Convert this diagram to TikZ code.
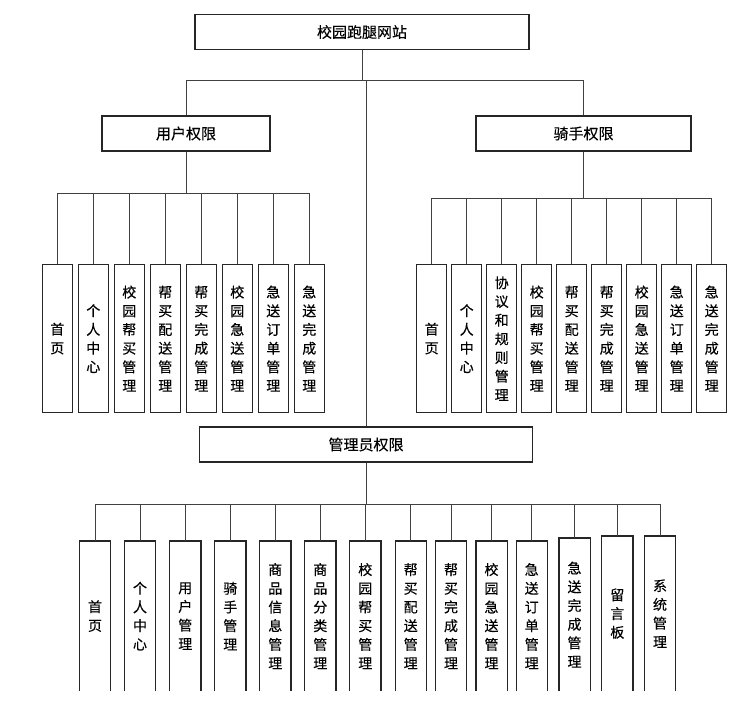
\documentclass[tikz,border=0pt]{standalone}
\usepackage{fontspec}
\newfontfamily\cjk[FakeBold=0.3]{Noto Sans CJK SC}
\begin{document}
\begin{tikzpicture}[x=1pt,y=-1pt,
  conn/.style={draw=black!75,line width=1pt},
  bigbox/.style={draw=black!85,line width=1.2pt,minimum height=35pt,inner sep=0pt,font=\cjk\fontsize{15}{17}\selectfont},
  leaf/.style={draw=black!85,line width=1.2pt,minimum width=30pt,minimum height=148pt,inner sep=0pt,anchor=north,align=center,font=\cjk\fontsize{14}{18.7}\selectfont},
  openleaf/.style={leaf,draw=none},
  side/.style={draw=black!85,line width=1.2pt}]
\useasboundingbox (0,0) rectangle (754,705);
\fill[white] (0,0) rectangle (754,705);

% main boxes
\node[bigbox,minimum width=334pt] (top) at (362,32) {校园跑腿网站};
\node[bigbox,minimum width=168pt] (user) at (186,133.5) {用户权限};
\node[bigbox,minimum width=215pt] (rider) at (583.5,133.5) {骑手权限};
\node[bigbox,minimum width=333pt] (admin) at (366,444.5) {管理员权限};

\coordinate (j0) at (362,80);
\coordinate (j1) at (366,80);
\coordinate (ju) at (186,193);
\coordinate (jr) at (583.5,198);
\coordinate (ja) at (366,504);

\draw[conn] (top.south) -- (j0);
\draw[conn] (user.north) -- (user.north |- j0) -- (rider.north |- j0) -- (rider.north);
\draw[conn] (j1) -- (admin.north);

% user leaves
\foreach \i/\t in {1/{首\\页},2/{个\\人\\中\\心},3/{校\\园\\帮\\买\\管\\理},4/{帮\\买\\配\\送\\管\\理},5/{帮\\买\\完\\成\\管\\理},6/{校\\园\\急\\送\\管\\理},7/{急\\送\\订\\单\\管\\理},8/{急\\送\\完\\成\\管\\理}}{
  \node[leaf] (u\i) at ({57.3+36*(\i-1)},264) {\t};
  \draw[conn] (u\i.north) -- (u\i.north |- ju);
}
\draw[conn] (user.south) -- (ju);
\draw[conn] (u1.north |- ju) -- (u8.north |- ju);

% rider leaves
\foreach \i/\t in {1/{首\\页},2/{个\\人\\中\\心},3/{协\\议\\和\\规\\则\\管\\理},4/{校\\园\\帮\\买\\管\\理},5/{帮\\买\\配\\送\\管\\理},6/{帮\\买\\完\\成\\管\\理},7/{校\\园\\急\\送\\管\\理},8/{急\\送\\订\\单\\管\\理},9/{急\\送\\完\\成\\管\\理}}{
  \node[leaf] (r\i) at ({431.7+35*(\i-1)},264) {\t};
  \draw[conn] (r\i.north) -- (r\i.north |- jr);
}
\draw[conn] (rider.south) -- (jr);
\draw[conn] (r1.north |- jr) -- (r9.north |- jr);

% admin leaves (open at the bottom)
\foreach \i/\x/\y/\t in {1/95/541/{首\\页},2/140/541/{个\\人\\中\\心},3/185.3/541/{用\\户\\管\\理},4/230.3/541/{骑\\手\\管\\理},5/275.3/541/{商\\品\\信\\息\\管\\理},6/320.3/541/{商\\品\\分\\类\\管\\理},7/365.3/541/{校\\园\\帮\\买\\管\\理},8/410.7/541/{帮\\买\\配\\送\\管\\理},9/451/541/{帮\\买\\完\\成\\管\\理},10/491.5/541/{校\\园\\急\\送\\管\\理},11/531.7/541/{急\\送\\订\\单\\管\\理},12/574.5/538/{急\\送\\完\\成\\管\\理},13/617.3/536/{留\\言\\板},14/660/536/{系\\统\\管\\理}}{
  \node[openleaf,minimum height={690-\y}] (a\i) at (\x,\y) {\t};
  \draw[side] (a\i.south west) -- (a\i.north west) -- (a\i.north east) -- (a\i.south east);
  \draw[conn] (a\i.north) -- (a\i.north |- ja);
}
\draw[conn] (admin.south) -- (ja);
\draw[conn] (a1.north |- ja) -- (a14.north |- ja);
\end{tikzpicture}
\end{document}
